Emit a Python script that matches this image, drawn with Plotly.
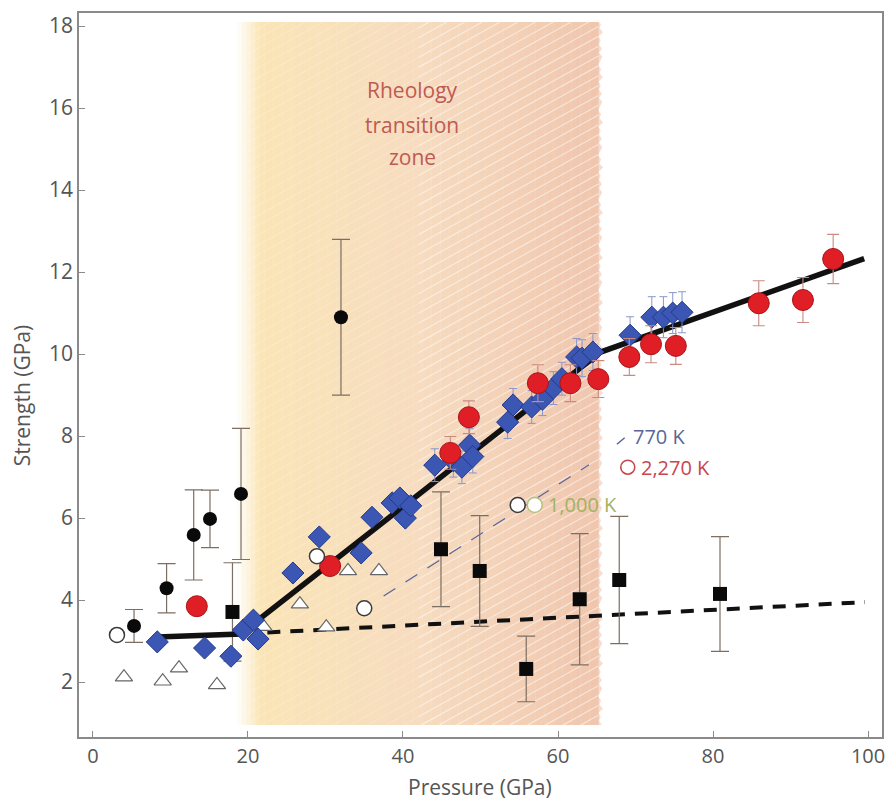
import plotly.graph_objects as go
import numpy as np

# ---------------- data ----------------
diamond_p = [8.3, 14.4, 17.8, 19.4, 20.7, 21.3, 25.8, 29.2, 34.6, 36.0, 38.6, 39.6, 40.3, 41.0,
             44.1, 46.5, 47.6, 48.6, 49.0, 53.5, 54.2, 56.6, 58.0, 59.4, 60.5, 62.4, 63.1, 64.5,
             69.3, 72.1, 73.6, 74.8, 76.0]
diamond_s = [2.98, 2.83, 2.63, 3.27, 3.51, 3.05, 4.66, 5.54, 5.15, 6.02, 6.37, 6.49, 6.0, 6.3,
             7.29, 7.4, 7.24, 7.78, 7.5, 8.34, 8.76, 8.71, 8.9, 9.17, 9.4, 9.93, 9.9, 10.05,
             10.46, 10.9, 10.9, 11.0, 11.02]
diamond_err = [0, 0, 0, 0, 0, 0, 0, 0, 0, 0, 0, 0, 0, 0,
               0.4, 0.4, 0.4, 0.4, 0.4, 0.4, 0.4, 0.4, 0.4, 0.4, 0.4, 0.45, 0.45, 0.45,
               0.45, 0.5, 0.5, 0.5, 0.5]

red_p = [13.4, 30.6, 46.1, 48.5, 57.4, 61.6, 65.2, 69.2, 72.0, 75.2, 85.9, 91.6, 95.5]
red_s = [3.85, 4.83, 7.59, 8.46, 9.29, 9.29, 9.39, 9.93, 10.24, 10.2, 11.24, 11.32, 12.32]
red_err = [0, 0, 0.4, 0.4, 0.45, 0.45, 0.45, 0.45, 0.45, 0.45, 0.55, 0.55, 0.6]

blackc_p = [5.3, 9.5, 13.0, 15.1, 19.1, 32.0]
blackc_s = [3.37, 4.29, 5.59, 5.98, 6.59, 10.9]
blackc_err = [0.4, 0.6, 1.1, 0.7, 1.6, 1.9]

square_p = [18.0, 44.9, 49.9, 55.9, 62.8, 67.9, 80.9]
square_s = [3.71, 5.24, 4.71, 2.32, 4.02, 4.49, 4.15]
square_err = [1.2, 1.4, 1.35, 0.8, 1.6, 1.55, 1.4]

tri_p = [4.0, 9.0, 11.1, 16.0, 22.0, 26.7, 30.1, 32.9, 36.9]
tri_s = [2.12, 2.02, 2.34, 1.93, 3.35, 3.9, 3.34, 4.71, 4.71]

open_p = [3.1, 28.9, 35.0, 54.8]
open_s = [3.15, 5.07, 3.80, 6.32]

k1000_p = [57.0]
k1000_s = [6.32]

fit_p = [8.3, 19.0, 65.5, 99.5]
fit_s = [3.1, 3.17, 10.05, 12.33]

flat_p = [22.5, 99.6]
flat_s = [3.21, 3.95]

k770_p = [37.5, 64.0]
k770_s = [4.1, 7.3]

x_ticks = [0, 20, 40, 60, 80, 100]
y_ticks = [2, 4, 6, 8, 10, 12, 14, 16, 18]

zone_x = [19.6, 65.2]
zone_y = [0.95, 18.1]

FONT = "Open Sans"
AX = "#8a8a8a"
TXT = "#555555"

fig = go.Figure()

# ---------------- rheology transition zone (gradient + hatching) ----------------
shapes = []
n = 80
c_left = np.array([251, 230, 182])
c_mid = np.array([247, 220, 192])
c_right = np.array([240, 198, 174])
edges = np.linspace(zone_x[0] - 1.0, zone_x[1], n + 1)


def zone_color(xv):
    f = (xv - zone_x[0]) / (zone_x[1] - zone_x[0])
    f = min(max(f, 0.0), 1.0)
    if f < 0.5:
        c = c_left + (c_mid - c_left) * (f / 0.5)
    else:
        c = c_mid + (c_right - c_mid) * ((f - 0.5) / 0.5)
    return c


for i in range(n):
    xm = 0.5 * (edges[i] + edges[i + 1])
    c = zone_color(xm)
    fade = min(1.0, max(0.0, (xm - (zone_x[0] - 1.0)) / 3.0))
    c = 255 - (255 - c) * fade
    shapes.append(dict(type="rect", xref="x", yref="y", layer="below",
                       x0=edges[i], x1=edges[i + 1] + 0.05, y0=zone_y[0], y1=zone_y[1],
                       line=dict(width=0),
                       fillcolor="rgb(%d,%d,%d)" % tuple(int(v) for v in c)))

# ragged right edge of the zone (deterministic zig-zag)
pts = []
yy = zone_y[0]
k = 0
amps = [0.45, 0.1, 0.3, 0.05, 0.6, 0.15, 0.35, 0.0, 0.25, 0.5, 0.1]
while yy <= zone_y[1]:
    pts.append((zone_x[1] + amps[k % len(amps)], yy))
    yy += 0.1
    k += 1
path = "M %.3f,%.3f " % (zone_x[1], zone_y[0])
for px, py in pts:
    path += "L %.3f,%.3f " % (px, py)
path += "L %.3f,%.3f Z" % (zone_x[1], zone_y[1])
cr = zone_color(zone_x[1])
shapes.append(dict(type="path", xref="x", yref="y", layer="below", path=path,
                   line=dict(width=0),
                   fillcolor="rgba(%d,%d,%d,0.6)" % tuple(int(v) for v in cr)))

# hatching lines (white diagonal), clipped to the zone
slope = 0.105
hx_l, hy_l, hx_r, hy_r = [], [], [], []
for b in np.arange(zone_y[0] - slope * (zone_x[1] - zone_x[0]), zone_y[1], 0.24):
    xa, xb = zone_x[0], zone_x[1]
    ya = b
    yb = b + slope * (xb - xa)
    if ya < zone_y[0]:
        xa = xa + (zone_y[0] - ya) / slope
        ya = zone_y[0]
    if yb > zone_y[1]:
        xb = xb - (yb - zone_y[1]) / slope
        yb = zone_y[1]
    if xb <= xa:
        continue
    split = 42.0
    if xa < split:
        xe = min(xb, split)
        hx_l += [xa, xe, None]
        hy_l += [ya, ya + slope * (xe - xa), None]
    if xb > split:
        xs = max(xa, split)
        hx_r += [xs, xb, None]
        hy_r += [ya + slope * (xs - xa), yb, None]

fig.add_trace(go.Scatter(x=hx_l, y=hy_l, mode="lines", hoverinfo="skip",
                         line=dict(color="rgba(255,255,255,0.22)", width=1.1), showlegend=False))
fig.add_trace(go.Scatter(x=hx_r, y=hy_r, mode="lines", hoverinfo="skip",
                         line=dict(color="rgba(255,255,255,0.5)", width=1.2), showlegend=False))

# ---------------- lines ----------------
fig.add_trace(go.Scatter(x=k770_p, y=k770_s, mode="lines", showlegend=False,
                         line=dict(color="#5a6699", width=1.3, dash="14px,12px")))
fig.add_trace(go.Scatter(x=flat_p, y=flat_s, mode="lines", showlegend=False,
                         line=dict(color="#111111", width=4, dash="13px,10px")))

# ---------------- markers ----------------
err_col = "#7d6e62"
fig.add_trace(go.Scatter(x=tri_p, y=tri_s, mode="markers", showlegend=False,
                         marker=dict(symbol="triangle-up", size=15, color="white",
                                     line=dict(color="#666666", width=1.2))))
fig.add_trace(go.Scatter(x=square_p, y=square_s, mode="markers", showlegend=False,
                         error_y=dict(type="data", array=square_err, color=err_col,
                                      thickness=1.2, width=9),
                         marker=dict(symbol="square", size=14, color="#0a0a0a",
                                     line=dict(color="#0a0a0a", width=0))))
fig.add_trace(go.Scatter(x=blackc_p, y=blackc_s, mode="markers", showlegend=False,
                         error_y=dict(type="data", array=blackc_err, color=err_col,
                                      thickness=1.2, width=9),
                         marker=dict(symbol="circle", size=14, color="#0a0a0a")))
fig.add_trace(go.Scatter(x=fit_p, y=fit_s, mode="lines", showlegend=False,
                         line=dict(color="#111111", width=5.5)))
fig.add_trace(go.Scatter(x=diamond_p, y=diamond_s, mode="markers", showlegend=False,
                         error_y=dict(type="data", array=diamond_err, color="#8a96c8",
                                      thickness=1, width=4),
                         marker=dict(symbol="diamond", size=17, color="#3b56b3",
                                     line=dict(color="#233a8c", width=1))))
fig.add_trace(go.Scatter(x=red_p, y=red_s, mode="markers", showlegend=False,
                         error_y=dict(type="data", array=red_err, color="#c98a80",
                                      thickness=1.1, width=6),
                         marker=dict(symbol="circle", size=21, color="#e01e26",
                                     line=dict(color="#a81418", width=1))))
fig.add_trace(go.Scatter(x=open_p, y=open_s, mode="markers", showlegend=False,
                         marker=dict(symbol="circle", size=15, color="white",
                                     line=dict(color="#3a3a3a", width=1.5))))
fig.add_trace(go.Scatter(x=k1000_p, y=k1000_s, mode="markers", showlegend=False,
                         marker=dict(symbol="circle", size=15, color="white",
                                     line=dict(color="#b7c27a", width=1.5))))

# ---------------- legend-like annotations ----------------
fig.add_trace(go.Scatter(x=[67.6, 68.6], y=[7.8, 7.96], mode="lines", showlegend=False,
                         line=dict(color="#5a6699", width=1.5)))
fig.add_trace(go.Scatter(x=[69.0], y=[7.24], mode="markers", showlegend=False,
                         marker=dict(symbol="circle-open", size=14,
                                     line=dict(color="#c8464e", width=1.6), color="#c8464e")))

annotations = [
    dict(x=69.4, y=7.98, text="770 K", showarrow=False, xanchor="left", yanchor="middle",
         font=dict(family=FONT, size=20, color="#5a6699")),
    dict(x=70.4, y=7.24, text="2,270 K", showarrow=False, xanchor="left", yanchor="middle",
         font=dict(family=FONT, size=20, color="#c8464e")),
    dict(x=58.4, y=6.32, text="1,000 K", showarrow=False, xanchor="left", yanchor="middle",
         font=dict(family=FONT, size=20, color="#a3b263")),
    dict(x=41.2, y=16.44, text="Rheology", showarrow=False, xanchor="center", yanchor="middle",
         font=dict(family=FONT, size=21, color="#bf5a52")),
    dict(x=41.2, y=15.58, text="transition", showarrow=False, xanchor="center", yanchor="middle",
         font=dict(family=FONT, size=21, color="#bf5a52")),
    dict(x=41.2, y=14.8, text="zone", showarrow=False, xanchor="center", yanchor="middle",
         font=dict(family=FONT, size=21, color="#bf5a52")),
    dict(xref="paper", yref="paper", x=-0.071, y=0.472, text="Strength (GPa)", textangle=-90,
         showarrow=False, xanchor="center", yanchor="middle",
         font=dict(family=FONT, size=21, color=TXT)),
    dict(xref="paper", yref="paper", x=0.4994, y=-0.069, text="Pressure (GPa)",
         showarrow=False, xanchor="center", yanchor="middle",
         font=dict(family=FONT, size=21, color=TXT)),
]

fig.update_layout(
    width=885, height=802,
    margin=dict(l=79, r=3, t=13, b=65, autoexpand=False),
    paper_bgcolor="white", plot_bgcolor="white",
    shapes=shapes, annotations=annotations,
    font=dict(family=FONT, size=21, color=TXT),
    xaxis=dict(range=[-1.8, 101.8], tickvals=x_ticks, ticks="inside", ticklen=6,
               tickcolor=AX, showline=True, linecolor=AX, linewidth=1.5, mirror=True,
               showgrid=False, zeroline=False, automargin=False,
               ticklabeloverflow="allow",
               tickfont=dict(family=FONT, size=20, color=TXT)),
    yaxis=dict(range=[0.66, 18.32], tickvals=y_ticks, ticks="inside", ticklen=6,
               tickcolor=AX, showline=True, linecolor=AX, linewidth=1.5, mirror=True,
               showgrid=False, zeroline=False, automargin=False,
               tickfont=dict(family=FONT, size=21, color=TXT)),
)

# remove the page's default body margin so the 885x802 figure fills the window exactly
fig.write_html("out.html",
               config={"displayModeBar": False},
               post_script="document.body.style.margin='0';"
                           "document.body.style.overflow='hidden';")
